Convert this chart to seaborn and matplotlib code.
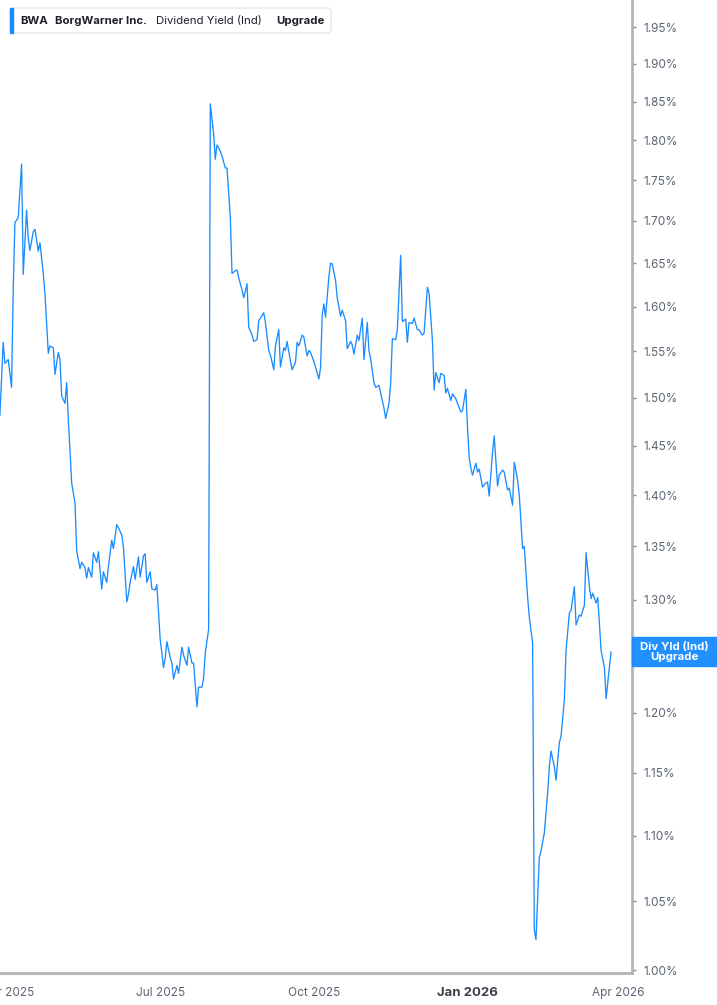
import pandas as pd
import matplotlib
matplotlib.use("Agg")
import matplotlib.pyplot as plt
import matplotlib.ticker as mticker
import matplotlib.dates as mdates
from matplotlib.patches import Rectangle, FancyBboxPatch
from matplotlib.transforms import IdentityTransform
import seaborn as sns

# BWA dividend yield (indicated)
dates = [
    "2025-03-27", "2025-03-29", "2025-03-30", "2025-04-01", "2025-04-03", "2025-04-04", "2025-04-05", "2025-04-07",
    "2025-04-09", "2025-04-10", "2025-04-12", "2025-04-13", "2025-04-14", "2025-04-16", "2025-04-17", "2025-04-19",
    "2025-04-20", "2025-04-22", "2025-04-23", "2025-04-25", "2025-04-26", "2025-04-28", "2025-04-29", "2025-05-01",
    "2025-05-02", "2025-05-03", "2025-05-05", "2025-05-06", "2025-05-07", "2025-05-08", "2025-05-09", "2025-05-11",
    "2025-05-12", "2025-05-14", "2025-05-15", "2025-05-17", "2025-05-18", "2025-05-19", "2025-05-21", "2025-05-22",
    "2025-05-24", "2025-05-25", "2025-05-27", "2025-05-28", "2025-05-30", "2025-05-31", "2025-06-02", "2025-06-03",
    "2025-06-05", "2025-06-06", "2025-06-08", "2025-06-09", "2025-06-11", "2025-06-12", "2025-06-13", "2025-06-15",
    "2025-06-16", "2025-06-18", "2025-06-19", "2025-06-21", "2025-06-22", "2025-06-23", "2025-06-25", "2025-06-26",
    "2025-06-28", "2025-06-29", "2025-07-01", "2025-07-03", "2025-07-04", "2025-07-05", "2025-07-07", "2025-07-08",
    "2025-07-09", "2025-07-11", "2025-07-12", "2025-07-14", "2025-07-15", "2025-07-17", "2025-07-18", "2025-07-20",
    "2025-07-21", "2025-07-23", "2025-07-24", "2025-07-26", "2025-07-27", "2025-07-28", "2025-07-30", "2025-07-31",
    "2025-08-02", "2025-08-03", "2025-08-04", "2025-08-06", "2025-08-07", "2025-08-09", "2025-08-10", "2025-08-12",
    "2025-08-13", "2025-08-15", "2025-08-16", "2025-08-17", "2025-08-19", "2025-08-20", "2025-08-22", "2025-08-23",
    "2025-08-25", "2025-08-26", "2025-08-28", "2025-08-29", "2025-08-31", "2025-09-01", "2025-09-02", "2025-09-04",
    "2025-09-05", "2025-09-07", "2025-09-08", "2025-09-10", "2025-09-11", "2025-09-13", "2025-09-14", "2025-09-15",
    "2025-09-17", "2025-09-18", "2025-09-20", "2025-09-21", "2025-09-22", "2025-09-24", "2025-09-25", "2025-09-27",
    "2025-09-28", "2025-09-29", "2025-10-01", "2025-10-02", "2025-10-04", "2025-10-05", "2025-10-06", "2025-10-07",
    "2025-10-08", "2025-10-10", "2025-10-11", "2025-10-12", "2025-10-14", "2025-10-15", "2025-10-17", "2025-10-18",
    "2025-10-20", "2025-10-21", "2025-10-23", "2025-10-24", "2025-10-25", "2025-10-27", "2025-10-28", "2025-10-30",
    "2025-10-31", "2025-11-02", "2025-11-03", "2025-11-04", "2025-11-06", "2025-11-07", "2025-11-09", "2025-11-10",
    "2025-11-12", "2025-11-13", "2025-11-15", "2025-11-16", "2025-11-17", "2025-11-19", "2025-11-20", "2025-11-22",
    "2025-11-23", "2025-11-25", "2025-11-26", "2025-11-27", "2025-11-29", "2025-11-30", "2025-12-02", "2025-12-03",
    "2025-12-05", "2025-12-06", "2025-12-08", "2025-12-09", "2025-12-11", "2025-12-12", "2025-12-13", "2025-12-15",
    "2025-12-16", "2025-12-18", "2025-12-19", "2025-12-20", "2025-12-22", "2025-12-23", "2025-12-25", "2025-12-26",
    "2025-12-28", "2025-12-29", "2025-12-31", "2026-01-01", "2026-01-02", "2026-01-03", "2026-01-04", "2026-01-06",
    "2026-01-07", "2026-01-08", "2026-01-10", "2026-01-12", "2026-01-13", "2026-01-14", "2026-01-16", "2026-01-17",
    "2026-01-19", "2026-01-20", "2026-01-22", "2026-01-23", "2026-01-25", "2026-01-26", "2026-01-28", "2026-01-29",
    "2026-01-31", "2026-02-01", "2026-02-03", "2026-02-04", "2026-02-06", "2026-02-07", "2026-02-09", "2026-02-10",
    "2026-02-11", "2026-02-13", "2026-02-14", "2026-02-16", "2026-02-18", "2026-02-19", "2026-02-20", "2026-02-22",
    "2026-02-23", "2026-02-25", "2026-02-26", "2026-02-28", "2026-03-01", "2026-03-03", "2026-03-04", "2026-03-06",
    "2026-03-07", "2026-03-09", "2026-03-10", "2026-03-12", "2026-03-13", "2026-03-15", "2026-03-16", "2026-03-17",
    "2026-03-19", "2026-03-20", "2026-03-22", "2026-03-24", "2026-03-25", "2026-03-27", "2026-03-28",
]
div_yield = [
    1.481, 1.560, 1.537, 1.541, 1.511, 1.619, 1.698, 1.704,
    1.770, 1.637, 1.713, 1.679, 1.665, 1.687, 1.690, 1.664,
    1.674, 1.638, 1.615, 1.548, 1.556, 1.554, 1.525, 1.549,
    1.541, 1.502, 1.494, 1.516, 1.476, 1.445, 1.412, 1.392,
    1.346, 1.329, 1.335, 1.330, 1.320, 1.330, 1.321, 1.344,
    1.335, 1.345, 1.310, 1.326, 1.316, 1.331, 1.356, 1.348,
    1.371, 1.368, 1.361, 1.349, 1.298, 1.305, 1.316, 1.331,
    1.319, 1.340, 1.321, 1.341, 1.343, 1.316, 1.326, 1.310,
    1.309, 1.314, 1.264, 1.239, 1.247, 1.262, 1.248, 1.243,
    1.229, 1.241, 1.234, 1.257, 1.250, 1.241, 1.257, 1.243,
    1.243, 1.205, 1.222, 1.222, 1.230, 1.252, 1.273, 1.847,
    1.808, 1.776, 1.794, 1.786, 1.780, 1.765, 1.765, 1.704,
    1.638, 1.641, 1.642, 1.633, 1.619, 1.610, 1.626, 1.577,
    1.568, 1.561, 1.563, 1.584, 1.590, 1.593, 1.582, 1.551,
    1.546, 1.530, 1.556, 1.574, 1.533, 1.554, 1.551, 1.561,
    1.539, 1.530, 1.538, 1.560, 1.556, 1.568, 1.566, 1.545,
    1.551, 1.549, 1.539, 1.533, 1.520, 1.532, 1.590, 1.603,
    1.588, 1.634, 1.650, 1.649, 1.630, 1.610, 1.589, 1.596,
    1.584, 1.553, 1.561, 1.557, 1.547, 1.568, 1.562, 1.587,
    1.541, 1.582, 1.551, 1.542, 1.516, 1.511, 1.513, 1.505,
    1.489, 1.478, 1.494, 1.515, 1.564, 1.563, 1.574, 1.659,
    1.583, 1.586, 1.560, 1.582, 1.581, 1.587, 1.574, 1.574,
    1.568, 1.570, 1.622, 1.615, 1.562, 1.508, 1.527, 1.516,
    1.526, 1.524, 1.505, 1.510, 1.497, 1.504, 1.499, 1.494,
    1.485, 1.486, 1.509, 1.469, 1.438, 1.427, 1.420, 1.432,
    1.423, 1.426, 1.408, 1.412, 1.413, 1.399, 1.443, 1.460,
    1.409, 1.420, 1.425, 1.423, 1.405, 1.407, 1.390, 1.433,
    1.415, 1.400, 1.348, 1.350, 1.302, 1.284, 1.261, 1.029,
    1.022, 1.083, 1.088, 1.102, 1.134, 1.155, 1.168, 1.155,
    1.144, 1.175, 1.180, 1.211, 1.254, 1.288, 1.290, 1.312,
    1.277, 1.286, 1.285, 1.295, 1.344, 1.312, 1.301, 1.306,
    1.297, 1.302, 1.254, 1.239, 1.212, 1.240, 1.253,
]

ytick_vals = [1.00, 1.05, 1.10, 1.15, 1.20, 1.25, 1.30, 1.35, 1.40, 1.45,
              1.50, 1.55, 1.60, 1.65, 1.70, 1.75, 1.80, 1.85, 1.90, 1.95]
xtick_dates = ["2025-04-01", "2025-07-01", "2025-10-01", "2026-01-01", "2026-04-01"]
xtick_labels = ["Apr 2025", "Jul 2025", "Oct 2025", "Jan 2026", "Apr 2026"]

BLUE = "#1a8cff"
W, H = 717, 1005

df = pd.DataFrame({"date": pd.to_datetime(dates), "yield": div_yield})

sns.set_style("white")
plt.rcParams["font.family"] = ["Inter", "DejaVu Sans"]

fig = plt.figure(figsize=(W / 100, H / 100), dpi=100)
ax = fig.add_axes([0, 32 / H, 632 / W, 973 / H])

sns.lineplot(data=df, x="date", y="yield", ax=ax, color=BLUE, lw=0.95)

ax.set_yscale("log")
ax.set_ylim(0.998, 1.988)
ax.set_xlim(pd.Timestamp("2025-03-27 02:00"), pd.Timestamp("2026-04-09 12:00"))
ax.set_xlabel("")
ax.set_ylabel("")

# y axis on the right
ax.yaxis.tick_right()
ax.yaxis.set_major_locator(mticker.FixedLocator(ytick_vals))
ax.yaxis.set_minor_locator(mticker.NullLocator())
ax.yaxis.set_major_formatter(mticker.FuncFormatter(lambda v, p: f"{v:.2f}%"))
ax.tick_params(axis="y", which="major", direction="out", length=3, width=1,
               color="#8a8a8a", pad=5, labelsize=8.5, labelcolor="#5c6573")

ax.set_xticks(pd.to_datetime(xtick_dates))
ax.set_xticklabels(xtick_labels)
ax.tick_params(axis="x", direction="out", length=5, width=1, color="#9a9a9a",
               pad=5, labelsize=8.5, labelcolor="#5c6573")
for lab in ax.get_xticklabels():
    if lab.get_text() == "Jan 2026":
        lab.set_fontweight("bold")
        lab.set_color("#3a3f4a")
        lab.set_fontsize(9.5)

for side in ["left", "top"]:
    ax.spines[side].set_visible(False)
for side in ["right", "bottom"]:
    ax.spines[side].set_color("#b3b3b3")
    ax.spines[side].set_linewidth(2)
ax.grid(False)

# legend chip top-left
fig.canvas.draw()
px = IdentityTransform()
chip = FancyBboxPatch((10, H - 33), 321, 25, boxstyle="round,pad=0,rounding_size=3",
                      facecolor="white", edgecolor="#e2e2e2", lw=0.8, transform=px)
fig.add_artist(chip)
fig.add_artist(Rectangle((10, H - 33), 3, 25, color=BLUE, transform=px))
ty = H - 20.5
for x0, txt, wt in [(20, "BWA", "bold"), (55, "BorgWarner Inc.", "bold"),
                    (156, "Dividend Yield (Ind)", "normal"), (276, "Upgrade", "bold")]:
    fig.text(x0, ty, txt, transform=px, ha="left", va="center",
             fontsize=8.2, fontweight=wt, color="#1d1f2b")

# last value tag on the right axis (covers the 1.25% label, as in the source)
_, ly = ax.transData.transform((mdates.date2num(df["date"].iloc[-1]), div_yield[-1]))
fig.add_artist(Rectangle((632, ly - 14), 85, 28.5, color=BLUE, alpha=0.97, transform=px))
fig.text(674.5, ly, "Div Yld (Ind)\nUpgrade", transform=px, ha="center", va="center",
         fontsize=8.2, fontweight="bold", color="white", linespacing=1.0)

fig.savefig("out.png", dpi=100)
